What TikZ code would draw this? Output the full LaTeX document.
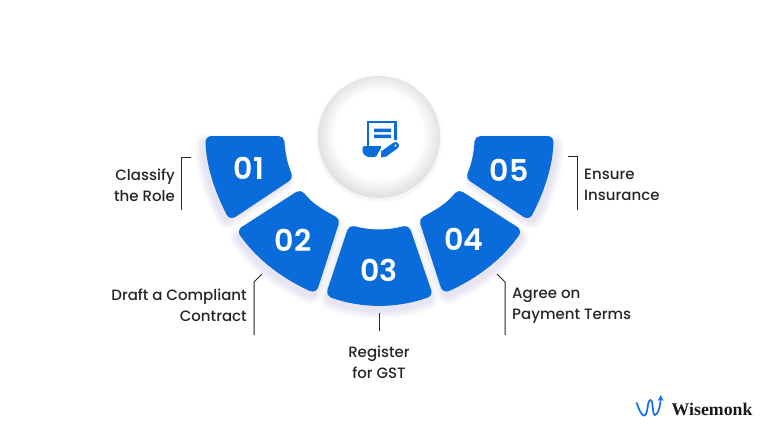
\documentclass[tikz,border=0pt]{standalone}
\usepackage{fontspec}
\setmainfont{Poppins Medium}
\newfontfamily\numfont{Poppins SemiBold}
\newfontfamily\logofont{Liberation Serif}
\usetikzlibrary{arrows.meta, positioning, calc}
\definecolor{bladeblue}{RGB}{10, 107, 219}
\definecolor{shadeviolet}{RGB}{60, 50, 150}
\definecolor{logoblue}{RGB}{25, 110, 235}
\pgfdeclareradialshading{hubshade}{\pgfpoint{0bp}{1.5bp}}{color(0bp)=(white); color(18bp)=(white); color(26.5bp)=(black!14); color(50bp)=(black!14)}
\newcommand{\blade}[3]{%
  \foreach \w in {12,14,...,26} {
    \draw[shadeviolet, opacity=0.016, fill, line width=\w pt, line join=round, shift={(#1,#2)}] #3;
  }
  \draw[bladeblue, fill=bladeblue, line width=12pt, line join=round] #3;
}
\begin{document}
\begin{tikzpicture}[
  x=1pt, y=-1pt,
  num/.style={text=white, font=\numfont\fontsize{30}{30}\selectfont, inner sep=0pt},
  lbl/.style={font=\fontsize{15}{21}\selectfont, text=black!85, inner sep=0pt},
  brk/.style={draw=black!85, line width=1pt},
  icon/.style={bladeblue, line width=2.6pt},
]
  \useasboundingbox (0,0) rectangle (768,432);
  % blades
  \blade{-4}{4}{(211.5,142) -- (278.5,142) .. controls (279.1,153.7) and (281.5,165.2) .. (286,176) -- (232,212) .. controls (221,190.5) and (212.2,166) .. cycle}
  \blade{-2}{6}{(299.5,197) .. controls (307.9,208.2) and (320.7,215.3) .. (333,222) -- (312.5,285.5) .. controls (286,273.6) and (261.8,255.7) .. (245,232) -- cycle}
  \blade{0}{6}{(353,232) .. controls (369.9,236.6) and (388.1,236.6) .. (405,232) -- (425.5,292) .. controls (395.8,302.5) and (362.7,302.5) .. (333,292) -- cycle}
  \blade{2}{6}{(459.5,197) .. controls (451.1,208.2) and (438.3,215.3) .. (426,222) -- (446.5,285.5) .. controls (473,273.6) and (497.2,255.7) .. (514,232) -- cycle}
  \blade{4}{4}{(547.5,142) -- (480.5,142) .. controls (479.9,153.7) and (477.5,165.2) .. (473,176) -- (527,212) .. controls (538,190.5) and (546.8,166) .. cycle}
  % centre disc
  \foreach \w in {1,2,3} {
    \fill[black, opacity=0.01] (379,139) circle ({61+\w});
  }
  \node[circle, minimum size=122pt, inner sep=0pt, shading=hubshade] (hub) at (379,137) {};
  % icon
  \draw[icon] (368,148) -- (368,122) -- (395.5,122) -- (395.5,140);
  \fill[bladeblue] (374,128.5) rectangle (391,132) (374,134.5) rectangle (391,138);
  \fill[bladeblue, rounded corners=1.5pt] (362.5,146) -- (382,146) -- (376,157) -- (367,157) -- (362.5,153) -- cycle;
  \draw[white, line width=9.5pt, line cap=round] (385,153) -- (395.5,145.5);
  \draw[bladeblue, line width=7pt, line cap=round] (385,153) -- (395.5,145.5);
  \fill[bladeblue] (381,157.5) -- (381.5,150) -- (388,156) -- cycle;
  \fill[white] (395.5,145.5) circle (1.1pt);
  % numbers
  \node[num] (n1) at (249,168) {01};
  \node[num] (n2) at (293,240) {02};
  \node[num] (n3) at (379,270) {03};
  \node[num] (n4) at (464,239) {04};
  \node[num] (n5) at (509,170) {05};
  % labels
  \node[lbl, align=right, anchor=east] (l1) at (175,185) {Classify\\the Role};
  \node[lbl, align=right, anchor=east] (l2) at (247,305) {Draft a Compliant\\Contract};
  \node[lbl, align=center] (l3) at (379,362) {Register\\for GST};
  \node[lbl, align=left, anchor=west] (l4) at (512,305.5) {Agree on\\Payment Terms};
  \node[lbl, align=left, anchor=west] (l5) at (584,185) {Ensure\\Insurance};
  % brackets
  \coordinate (b1a) at (191,157);
  \coordinate (b1b) at (181.5,157);
  \coordinate (b1c) at (181.5,210);
  \draw[brk] (b1a) -- (b1b) -- (b1c);
  \coordinate (b2a) at (262,274);
  \coordinate (b2b) at (254,282);
  \coordinate (b2c) at (254,335);
  \draw[brk] (b2a) -- (b2b) -- (b2c);
  \coordinate (b3a) at (379,313);
  \coordinate (b3b) at (379,331);
  \draw[brk] (b3a) -- (b3b);
  \coordinate (b4a) at (497,274);
  \coordinate (b4b) at (505,282);
  \coordinate (b4c) at (505,335);
  \draw[brk] (b4a) -- (b4b) -- (b4c);
  \coordinate (b5a) at (568,156);
  \coordinate (b5b) at (577.5,156);
  \coordinate (b5c) at (577.5,210);
  \draw[brk] (b5a) -- (b5b) -- (b5c);
  % logo
  \draw[logoblue, line width=1.7pt, -{Stealth[length=6pt, width=6pt]}] (636.5,402.5) .. controls (640,412) and (642,416) .. (644.5,415.5) .. controls (648,415) and (647,400.5) .. (650.5,400) .. controls (653.5,400) and (652,415) .. (655,415) .. controls (658,415) and (660.5,405) .. (660.8,395);
  \node[font=\logofont\bfseries\fontsize{17.8}{18}\selectfont, anchor=west, inner sep=0pt, text=black!90] (logo) at (671.5,409) {Wisemonk};
\end{tikzpicture}
\end{document}
